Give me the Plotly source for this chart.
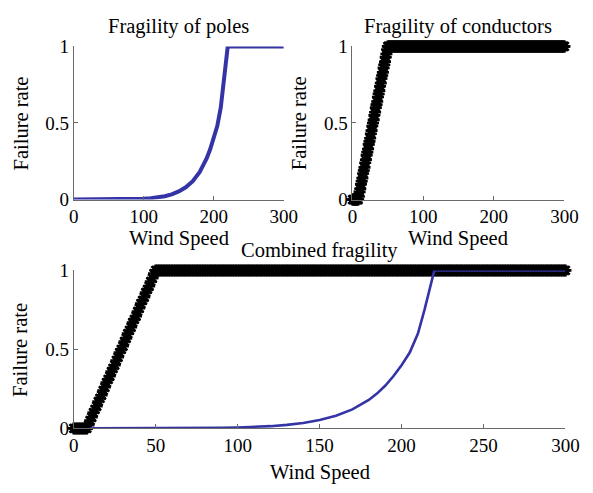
import plotly.graph_objects as go

# ---------------- data ----------------
pole_speed = [0, 10, 20, 30, 40, 50, 60, 70, 80, 90, 100, 110, 120, 130, 140, 150,
              160, 170, 180, 185, 190, 195, 200, 205, 210, 214, 218, 220, 230, 250, 300]
pole_rate = [0.0, 0.0, 0.0, 0.0, 0.0, 0.001, 0.001, 0.002, 0.003, 0.004, 0.006, 0.009,
             0.014, 0.022, 0.034, 0.053, 0.08, 0.12, 0.18, 0.22, 0.27, 0.33, 0.40, 0.48,
             0.60, 0.75, 0.93, 1.0, 1.0, 1.0, 1.0]

cond_speed = list(range(0, 301))
cond_rate = ([0, 0, 0, 0, 0, 0, 0, 0, 0,
              0.02, 0.05, 0.07, 0.10, 0.12, 0.14, 0.17, 0.19, 0.21, 0.24, 0.26,
              0.29, 0.31, 0.33, 0.36, 0.38, 0.40, 0.43, 0.45, 0.48, 0.50, 0.52,
              0.55, 0.57, 0.60, 0.62, 0.64, 0.67, 0.69, 0.71, 0.74, 0.76, 0.79,
              0.81, 0.83, 0.86, 0.88, 0.90, 0.93, 0.95, 0.98, 1.0]
             + [1.0] * 250)

titles = ["Fragility of poles", "Fragility of conductors", "Combined fragility"]
x_label = "Wind Speed"
y_label = "Failure rate"
top_xticks = [0, 100, 200, 300]
bottom_xticks = [0, 50, 100, 150, 200, 250, 300]
yticks = [0, 0.5, 1]
ytick_text = ["0", "0.5", "1"]

# ---------------- style ----------------
W, H = 593, 493
FONT = "Liberation Serif"
BLUE = "#3434a6"
AX = "#6a6a6a"


def px_x(p):
    return p / W


def px_y(p):
    return 1 - p / H


fig = go.Figure()

# panel geometry (pixels)
panels = {
    "tl": dict(x0=71, x1=288, y0=198, y1=38),
    "tr": dict(x0=359, x1=578, y0=198, y1=38),
    "bt": dict(x0=71, x1=579, y0=437, y1=272),
}

marker_cfg = dict(symbol="asterisk-open", size=10, color="black",
                  line=dict(color="black", width=2.6))

# top-left: poles
fig.add_trace(go.Scatter(x=pole_speed, y=pole_rate, mode="lines",
                         line=dict(color=BLUE, width=4), cliponaxis=False,
                         xaxis="x", yaxis="y", showlegend=False))
# top-right: conductors
fig.add_trace(go.Scatter(x=cond_speed, y=cond_rate, mode="markers",
                         marker=marker_cfg, cliponaxis=False,
                         xaxis="x2", yaxis="y2", showlegend=False))
# bottom: combined
fig.add_trace(go.Scatter(x=cond_speed, y=cond_rate, mode="markers",
                         marker=marker_cfg, cliponaxis=False,
                         xaxis="x3", yaxis="y3", showlegend=False))
fig.add_trace(go.Scatter(x=pole_speed[1:], y=pole_rate[1:], mode="lines",
                         line=dict(color=BLUE, width=2.6), cliponaxis=False,
                         xaxis="x3", yaxis="y3", showlegend=False))

common_ax = dict(showgrid=False, zeroline=False, showline=True, linecolor=AX,
                 linewidth=1, ticks="inside", ticklen=4, tickcolor=AX,
                 tickfont=dict(family=FONT, size=19, color="black"))

layout = dict(width=W, height=H, margin=dict(l=0, r=0, t=0, b=0),
              paper_bgcolor="white", plot_bgcolor="white",
              showlegend=False, font=dict(family=FONT, color="black"))

names = [("xaxis", "yaxis", "tl", top_xticks, "y", "x"),
         ("xaxis2", "yaxis2", "tr", top_xticks, "y2", "x2"),
         ("xaxis3", "yaxis3", "bt", bottom_xticks, "y3", "x3")]

annotations = []
for (xa, ya, key, xt, anchor_y, anchor_x), title in zip(names, titles):
    g = panels[key]
    layout[xa] = dict(common_ax, domain=[px_x(g["x0"]), px_x(g["x1"])],
                      range=[0, 300], tickvals=xt, anchor=anchor_y)
    layout[ya] = dict(common_ax, domain=[px_y(g["y0"]), px_y(g["y1"])],
                      range=[0, 1], tickvals=yticks, ticktext=ytick_text,
                      anchor=anchor_x)
    cx = (g["x0"] + g["x1"]) / 2
    # title
    annotations.append(dict(text=title, x=px_x(cx), y=px_y(g["y1"] - 21),
                            xref="paper", yref="paper", showarrow=False,
                            xanchor="center", yanchor="middle",
                            font=dict(family=FONT, size=20.5, color="black")))
    # x label
    annotations.append(dict(text=x_label, x=px_x(cx), y=px_y(g["y0"] + 41 if key != "bt" else g["y0"] + 46),
                            xref="paper", yref="paper", showarrow=False,
                            xanchor="center", yanchor="middle",
                            font=dict(family=FONT, size=20.5, color="black")))
    # y label
    annotations.append(dict(text=y_label, x=px_x(g["x0"] - 55),
                            y=px_y((g["y0"] + g["y1"]) / 2),
                            xref="paper", yref="paper", showarrow=False,
                            textangle=-90, xanchor="center", yanchor="middle",
                            font=dict(family=FONT, size=20.5, color="black")))

layout["annotations"] = annotations
fig.update_layout(**layout)

fig.write_html("out.html")
